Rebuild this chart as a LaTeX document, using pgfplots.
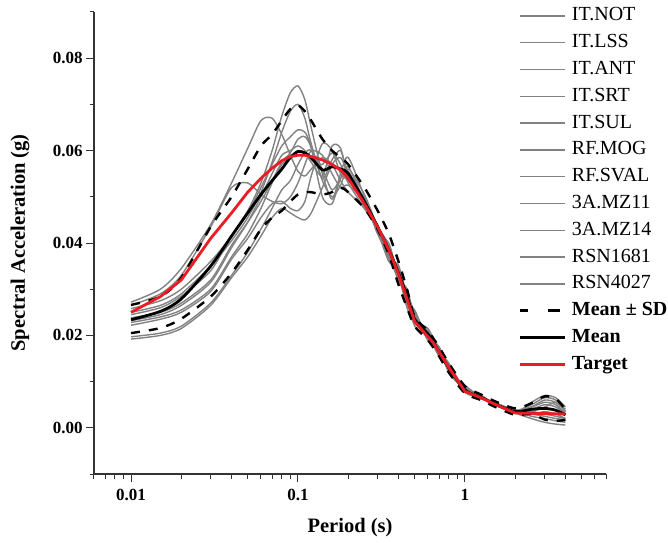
\documentclass[border=0pt]{standalone}
\usepackage{fontspec}
\setmainfont{Liberation Serif}
\usepackage{pgfplots}
\pgfplotsset{compat=1.18}
\usepackage{pgfplotstable}

\definecolor{recgray}{RGB}{130,130,130}
\definecolor{tgtred}{RGB}{236,28,36}

% period (s) and spectral acceleration (g) of the eleven records
\pgfplotstableread{
T     r1     r2     r3     r4     r5     r6     r7     r8     r9     r10    r11
0.01  0.0272 0.0265 0.0258 0.0250 0.0245 0.0238 0.0232 0.0228 0.0222 0.0197 0.0192
0.015 0.0300 0.0290 0.0275 0.0265 0.0260 0.0250 0.0245 0.0240 0.0235 0.0205 0.0200
0.02  0.0345 0.0330 0.0300 0.0290 0.0285 0.0270 0.0265 0.0255 0.0250 0.0220 0.0215
0.03  0.0440 0.0435 0.0360 0.0350 0.0340 0.0320 0.0315 0.0300 0.0295 0.0270 0.0265
0.04  0.0530 0.0520 0.0415 0.0405 0.0415 0.0395 0.0390 0.0370 0.0365 0.0330 0.0325
0.05  0.0605 0.0530 0.0470 0.0455 0.0465 0.0445 0.0445 0.0420 0.0410 0.0380 0.0370
0.06  0.0665 0.0505 0.0530 0.0510 0.0520 0.0490 0.0500 0.0475 0.0455 0.0430 0.0415
0.07  0.0670 0.0490 0.0600 0.0575 0.0570 0.0535 0.0550 0.0530 0.0485 0.0475 0.0455
0.08  0.0635 0.0485 0.0675 0.0640 0.0610 0.0575 0.0590 0.0570 0.0490 0.0515 0.0475
0.09  0.0590 0.0500 0.0725 0.0685 0.0630 0.0595 0.0600 0.0585 0.0475 0.0535 0.0465
0.1   0.0555 0.0530 0.0740 0.0700 0.0645 0.0625 0.0610 0.0600 0.0470 0.0570 0.0455
0.11  0.0545 0.0570 0.0710 0.0670 0.0640 0.0630 0.0600 0.0595 0.0490 0.0595 0.0450
0.12  0.0560 0.0600 0.0650 0.0615 0.0610 0.0605 0.0580 0.0575 0.0545 0.0600 0.0465
0.14  0.0585 0.0590 0.0550 0.0540 0.0535 0.0500 0.0570 0.0545 0.0615 0.0560 0.0520
0.16  0.0570 0.0550 0.0495 0.0580 0.0500 0.0485 0.0595 0.0610 0.0600 0.0515 0.0570
0.18  0.0535 0.0520 0.0550 0.0600 0.0525 0.0540 0.0570 0.0605 0.0550 0.0540 0.0585
0.2   0.0510 0.0525 0.0585 0.0550 0.0560 0.0555 0.0530 0.0540 0.0535 0.0565 0.0550
0.25  0.0475 0.0490 0.0500 0.0480 0.0505 0.0490 0.0475 0.0485 0.0495 0.0490 0.0495
0.3   0.0435 0.0430 0.0420 0.0440 0.0435 0.0425 0.0430 0.0435 0.0420 0.0425 0.0430
0.35  0.0395 0.0370 0.0400 0.0365 0.0385 0.0360 0.0390 0.0380 0.0370 0.0390 0.0375
0.4   0.0322 0.0347 0.0327 0.0352 0.0317 0.0342 0.0332 0.0342 0.0322 0.0337 0.0322
0.45  0.0300 0.0265 0.0290 0.0280 0.0295 0.0270 0.0260 0.0290 0.0300 0.0275 0.0280
0.5   0.0230 0.0245 0.0250 0.0225 0.0235 0.0255 0.0225 0.0220 0.0240 0.0230 0.0245
0.6   0.0210 0.0195 0.0190 0.0215 0.0200 0.0190 0.0210 0.0200 0.0195 0.0215 0.0190
0.7   0.0155 0.0175 0.0165 0.0160 0.0175 0.0165 0.0170 0.0155 0.0170 0.0165 0.0170
0.8   0.0135 0.0125 0.0140 0.0130 0.0120 0.0135 0.0125 0.0140 0.0130 0.0125 0.0130
1.0   0.0082 0.0087 0.0077 0.0087 0.0082 0.0077 0.0092 0.0082 0.0077 0.0085 0.0082
1.25  0.0069 0.0064 0.0066 0.0069 0.0064 0.0070 0.0066 0.0063 0.0068 0.0066 0.0068
1.5   0.0050 0.0054 0.0052 0.0049 0.0055 0.0052 0.0050 0.0054 0.0052 0.0055 0.0050
2.0   0.0035 0.0037 0.0032 0.0038 0.0033 0.0035 0.0036 0.0035 0.0033 0.0038 0.0034
2.5   0.0035 0.0050 0.0020 0.0045 0.0030 0.0040 0.0025 0.0035 0.0055 0.0030 0.0045
3.0   0.0045 0.0065 0.0012 0.0055 0.0035 0.0050 0.0020 0.0030 0.0070 0.0025 0.0060
3.5   0.0055 0.0060 0.0008 0.0050 0.0030 0.0045 0.0015 0.0025 0.0065 0.0020 0.0055
4.0   0.0040 0.0035 0.0006 0.0030 0.0020 0.0030 0.0012 0.0020 0.0045 0.0018 0.0035
}\records

% mean, mean+SD, mean-SD
\pgfplotstableread{
T     mean   up     lo
0.01  0.0234 0.0266 0.0205
0.015 0.0252 0.0284 0.0216
0.02  0.0279 0.0325 0.0236
0.03  0.0350 0.0435 0.0284
0.04  0.0415 0.0500 0.0335
0.05  0.0465 0.0560 0.0385
0.06  0.0505 0.0610 0.0430
0.07  0.0535 0.0635 0.0455
0.08  0.0560 0.0665 0.0470
0.09  0.0585 0.0690 0.0490
0.1   0.0598 0.0698 0.0505
0.11  0.0595 0.0685 0.0510
0.12  0.0585 0.0665 0.0510
0.14  0.0558 0.0625 0.0505
0.16  0.0565 0.0600 0.0510
0.18  0.0560 0.0585 0.0520
0.2   0.0550 0.0570 0.0510
0.25  0.0490 0.0520 0.0475
0.3   0.0435 0.0470 0.0430
0.35  0.0385 0.0420 0.0375
0.4   0.0335 0.0360 0.0310
0.45  0.0285 0.0300 0.0260
0.5   0.0235 0.0240 0.0220
0.6   0.0203 0.0210 0.0190
0.7   0.0165 0.0175 0.0155
0.8   0.0130 0.0140 0.0120
1.0   0.0082 0.0090 0.0075
1.25  0.0066 0.0072 0.0060
1.5   0.0052 0.0058 0.0046
2.0   0.0035 0.0042 0.0028
2.5   0.0040 0.0053 0.0030
3.0   0.0042 0.0068 0.0018
3.5   0.0038 0.0063 0.0015
4.0   0.0028 0.0040 0.0017
}\stats

% target spectrum
\pgfplotstableread{
T     sa
0.01  0.0250
0.015 0.0284
0.02  0.0320
0.03  0.0410
0.04  0.0465
0.05  0.0510
0.06  0.0540
0.07  0.0562
0.08  0.0578
0.09  0.0587
0.1   0.0590
0.11  0.0590
0.12  0.0587
0.14  0.0580
0.16  0.0570
0.18  0.0558
0.2   0.0540
0.25  0.0485
0.3   0.0435
0.35  0.0385
0.4   0.0333
0.5   0.0230
0.65  0.0183
0.82  0.0125
1.0   0.0079
1.25  0.0065
1.6   0.0047
2.0   0.0032
4.0   0.0030
}\target

\begin{document}
\begin{tikzpicture}[x=1pt,y=1pt]
\path[use as bounding box] (-94,-68) rectangle (574,474);
\begin{axis}[
  at={(0,0)}, anchor=south west,
  scale only axis, width=512pt, height=462pt,
  xmode=log, xmin=0.006, xmax=7,
  ymin=-0.01, ymax=0.09,
  axis x line=bottom, axis y line=left,
  axis line style={-, line width=1.1pt, black!80},
  xtick={0.01,0.1,1}, xticklabels={0.01,0.1,1},
  minor xtick={0.006,0.007,0.008,0.009,0.02,0.03,0.04,0.05,0.06,0.07,0.08,0.09,
               0.2,0.3,0.4,0.5,0.6,0.7,0.8,0.9,2,3,4,5,6,7},
  ytick={0,0.02,0.04,0.06,0.08},
  minor ytick={-0.01,0.01,0.03,0.05,0.07,0.09},
  scaled y ticks=false,
  yticklabel style={/pgf/number format/.cd, fixed, fixed zerofill, precision=2},
  xticklabel style={yshift=-4pt},
  /pgf/number format/assume math mode=true,
  tick align=outside, major tick length=8pt, minor tick length=4.5pt,
  every tick/.style={black!80, line width=1pt},
  ticklabel style={font=\bfseries\fontsize{17}{18}\selectfont},
  xlabel={Period (s)}, ylabel={Spectral Acceleration (g)},
  label style={font=\bfseries\fontsize{20.5}{24}\selectfont},
  xlabel style={at={(axis description cs:0.5,-0.117)}, anchor=center},
  ylabel style={at={(axis description cs:-0.1445,0.5)}, anchor=center},
  legend style={at={(axis description cs:0.828,1.021)}, anchor=north west,
    draw=none, fill=none, inner sep=0pt, row sep=0pt, column sep=6pt,
    font=\fontsize{20}{24}\selectfont,
    nodes={inner sep=0pt, text height=18.4pt, text depth=8.4pt}},
  legend cell align=left,
  legend image code/.code={\draw[#1] (0pt,0pt) -- (45pt,0pt);},
  recs/.style={recgray, line width=1.4pt, smooth, tension=0.45},
]
\addplot[recs] table[x=T, y=r1] {\records}; \addlegendentry{IT.NOT}
\addplot[recs] table[x=T, y=r2] {\records}; \addlegendentry{IT.LSS}
\addplot[recs] table[x=T, y=r3] {\records}; \addlegendentry{IT.ANT}
\addplot[recs] table[x=T, y=r4] {\records}; \addlegendentry{IT.SRT}
\addplot[recs] table[x=T, y=r5] {\records}; \addlegendentry{IT.SUL}
\addplot[recs] table[x=T, y=r6] {\records}; \addlegendentry{RF.MOG}
\addplot[recs] table[x=T, y=r7] {\records}; \addlegendentry{RF.SVAL}
\addplot[recs] table[x=T, y=r8] {\records}; \addlegendentry{3A.MZ11}
\addplot[recs] table[x=T, y=r9] {\records}; \addlegendentry{3A.MZ14}
\addplot[recs] table[x=T, y=r10] {\records}; \addlegendentry{RSN1681}
\addplot[recs] table[x=T, y=r11] {\records}; \addlegendentry{RSN4027}

\addplot[black, line width=2.4pt, dash pattern=on 9pt off 9pt, smooth, tension=0.45,
  legend image code/.code={\draw[black, line width=2.4pt, dash pattern=on 8pt off 20pt on 12pt off 20pt] (0pt,0pt) -- (45pt,0pt);}]
  table[x=T, y=up] {\stats};
\addlegendentry{\textbf{Mean ± SD}}
\addplot[forget plot, black, line width=2.4pt, dash pattern=on 9pt off 9pt, smooth, tension=0.45]
  table[x=T, y=lo] {\stats};
\addplot[black, line width=2.8pt, smooth, tension=0.45] table[x=T, y=mean] {\stats};
\addlegendentry{\textbf{Mean}}
\addplot[tgtred, line width=2.8pt] table[x=T, y=sa] {\target};
\addlegendentry{\textbf{Target}}
\end{axis}
\end{tikzpicture}
\end{document}
